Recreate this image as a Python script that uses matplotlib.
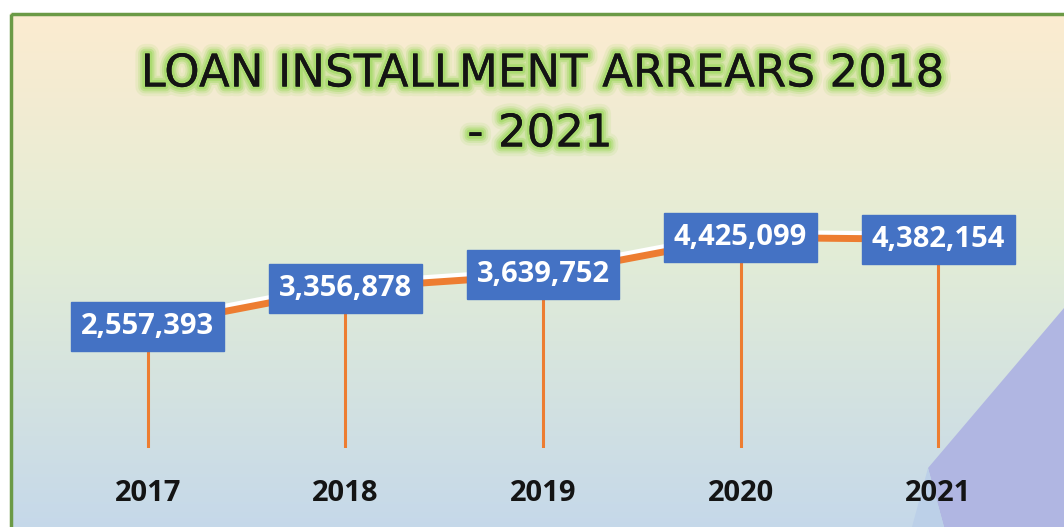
import numpy as np
import matplotlib
matplotlib.use("Agg")
import matplotlib.pyplot as plt
import matplotlib.patheffects as pe
from matplotlib.patches import Rectangle, Polygon

# yearly arrears on loan installments
years = ["2017", "2018", "2019", "2020", "2021"]
arrears = [2557393, 3356878, 3639752, 4425099, 4382154]

W, H = 1064, 527
FONT = "Open Sans"
fig = plt.figure(figsize=(W / 100, H / 100), dpi=100)
fig.patch.set_facecolor("white")

# slide background: vertical gradient cream -> pale green -> pale blue
bg = fig.add_axes([0, 0, 1, 1])
bg.set_xlim(0, W)
bg.set_ylim(H, 0)
bg.axis("off")
stops = np.array([0.0, 0.45, 1.0])
cols = np.array([[252, 235, 208], [227, 237, 214], [197, 216, 234]]) / 255
t = np.linspace(0, 1, 256)
grad = np.stack([np.interp(t, stops, cols[:, k]) for k in range(3)], axis=-1)
grad = np.repeat(grad[:, None, :], 2, axis=1)
bg.imshow(grad, extent=[10, W + 5, H + 5, 13], aspect="auto", zorder=0)

# lavender corner decoration
bg.add_patch(Polygon([[W, 308], [928, 468], [944, H], [W, H]],
                     closed=True, facecolor="#b0b6e2", edgecolor="none", zorder=1))
bg.add_patch(Polygon([[928, 468], [944, H], [912, H]],
                     closed=True, facecolor="#bcd0e8", edgecolor="none", zorder=1))
bg.add_patch(Rectangle((11, 14), W, H, fill=False, edgecolor="#6b9a46",
                       linewidth=2.5, zorder=2))

# title with soft green glow
glow = [pe.withStroke(linewidth=w, foreground="#a6da6a", alpha=a)
        for w, a in [(14, 0.15), (10, 0.25), (7, 0.45), (4, 0.8)]] + [pe.Normal()]
title_kw = dict(ha="center", va="center", fontsize=32.5, family="DejaVu Sans",
                color="#141414", path_effects=glow, zorder=3)
bg.text(542, 74, "LOAN INSTALLMENT ARREARS 2018", **title_kw)
bg.text(540, 134, "- 2021", **title_kw)

# chart area: value 0 sits at y=448 px, 5,000,000 at y=210 px
ax = fig.add_axes([49 / W, 1 - 448 / H, 988 / W, 238 / H])
ax.patch.set_alpha(0)
x = np.arange(len(years))
ax.set_xlim(-0.5, len(years) - 0.5)
ax.set_ylim(0, 5000000)

ax.vlines(x, 0, arrears, color="#ed7d31", linewidth=2.2, zorder=2)
ax.plot(x, arrears, color="#ed7d31", linewidth=5, solid_capstyle="round", zorder=3,
        path_effects=[pe.SimpleLineShadow(offset=(0, 3), shadow_color="white", alpha=1),
                      pe.Normal()])

for xi, v in zip(x, arrears):
    ax.text(xi, v, f"{v:,}", ha="center", va="center", fontsize=21,
            fontweight="bold", family=FONT, color="white", zorder=5,
            bbox=dict(boxstyle="square,pad=0.34", facecolor="#4472c4",
                      edgecolor="#4472c4"))

ax.set_xticks(x)
ax.set_xticklabels(years, fontsize=21, fontweight="bold", family=FONT,
                   color="#141414")
ax.tick_params(axis="x", length=0, pad=22)
ax.set_yticks([])
for s in ax.spines.values():
    s.set_visible(False)

fig.savefig("out.png", dpi=100)
